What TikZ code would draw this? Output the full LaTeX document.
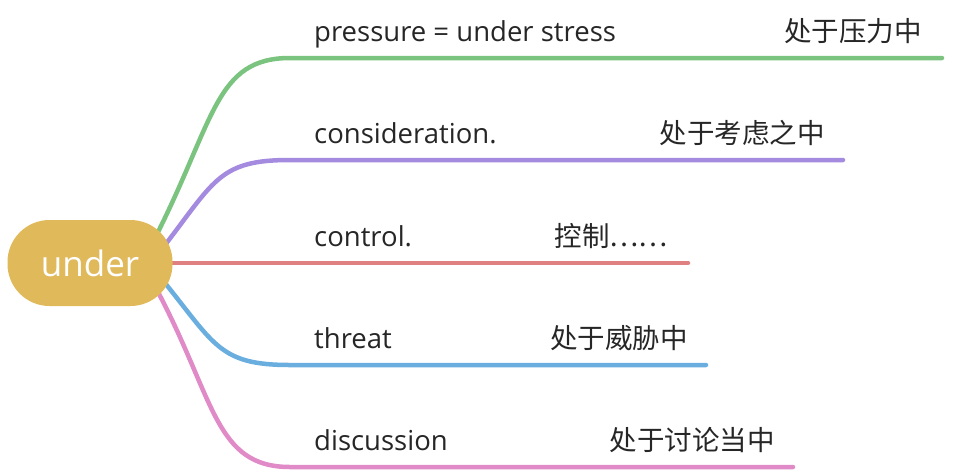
\documentclass[tikz,border=0pt]{standalone}
\usepackage{fontspec}
\setmainfont{Open Sans}
\newfontfamily\cjk{Noto Sans CJK SC}
\begin{document}
\begin{tikzpicture}[x=1pt,y=-1pt]
\definecolor{cg}{HTML}{7BC47F}\definecolor{cp}{HTML}{A58BE0}\definecolor{cr}{HTML}{E08080}
\definecolor{cb}{HTML}{6AAEE0}\definecolor{ck}{HTML}{E08AC8}\definecolor{cy}{HTML}{E0B95A}
\useasboundingbox (0,0) rectangle (972,472);
\tikzset{br/.style={line width=4.5pt,line cap=round},
 lab/.style={font=\fontsize{27.5}{32}\selectfont,anchor=base west,inner sep=0pt,text=black!85},
 cn/.style={font=\cjk\fontsize{27.5}{32}\selectfont,anchor=base east,inner sep=0pt,text=black!85}}
\coordinate (g) at (942,58);\coordinate (p) at (843,160);\coordinate (r) at (688,263);
\coordinate (b) at (706,365);\coordinate (k) at (793,467);
\draw[br,cg] (155,238) .. controls (215,120) and (215,58) .. (290,58) -- (g);
\draw[br,cp] (165,245) .. controls (215,180) and (220,160) .. (290,160) -- (p);
\draw[br,cr] (170,263) -- (r);
\draw[br,cb] (165,283) .. controls (215,345) and (220,365) .. (290,365) -- (b);
\draw[br,ck] (158,292) .. controls (215,400) and (215,467) .. (290,467) -- (k);
\node[fill=cy,rounded corners=42pt,minimum width=165pt,minimum height=86pt,text=white,font=\fontsize{35}{40}\selectfont] (root) at (90,263) {under};
\node[lab] (t1) at (314,41) {pressure = under stress};
\node[cn] (c1) at (922,41) {处于压力中};
\node[lab] (t2) at (314,143) {consideration.};
\node[cn] (c2) at (825,143) {处于考虑之中};
\node[lab] (t3) at (314,246) {control.};
\node[cn] (c3) at (668,246) {控制……};
\node[lab] (t4) at (314,348) {threat};
\node[cn] (c4) at (688,348) {处于威胁中};
\node[lab] (t5) at (314,450) {discussion};
\node[cn] (c5) at (775,450) {处于讨论当中};
\end{tikzpicture}
\end{document}
